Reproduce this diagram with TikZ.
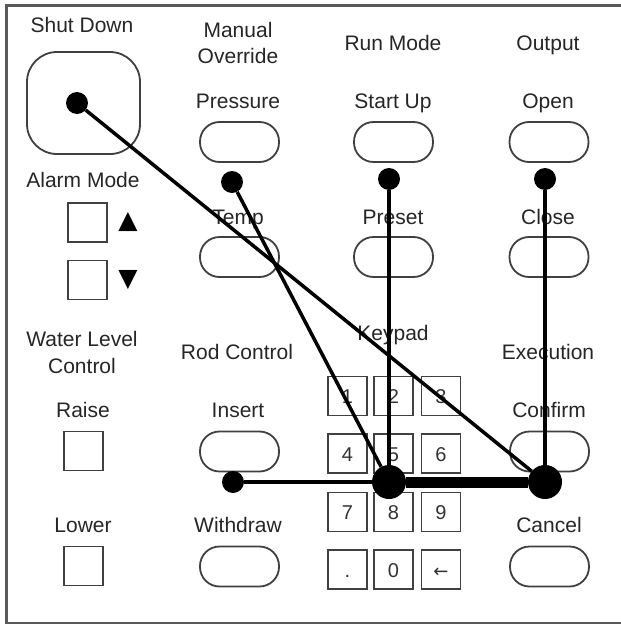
\documentclass[tikz,border=0pt]{standalone}
\usepackage{fontspec}
\setmainfont{Liberation Sans}
\newfontfamily\symfont{DejaVu Sans}
\begin{document}
\begin{tikzpicture}[x=1pt,y=-1pt,
  lbl/.style={font=\fontsize{21}{27}\selectfont, text=black!85, anchor=base, inner sep=0pt},
  lbl2/.style={font=\fontsize{21}{26.5}\selectfont, text=black!85, align=center, anchor=center, inner sep=0pt},
  pill/.style={draw=black!75, line width=1.8pt, rounded corners=19.5pt, minimum width=79pt, minimum height=40pt, inner sep=0pt},
  sq/.style={draw=black!75, line width=1.8pt, minimum size=39pt, inner sep=0pt},
  keybox/.style={sq, font=\fontsize{20}{20}\selectfont, text height=15pt, text depth=0pt, text=black!80},
  sym/.style={font=\symfont\fontsize{25}{25}\selectfont, inner sep=0pt},
  dot/.style={circle, fill=black, minimum size=22pt, inner sep=0pt},
  bigdot/.style={circle, fill=black, minimum size=34pt, inner sep=0pt},
  wire/.style={line width=3.5pt},
  thickwire/.style={line width=11pt},
  frame/.style={draw=black!65, line width=3pt}
  ]
\useasboundingbox (0,0) rectangle (621,624);
\fill[white] (0,0) rectangle (621,624);
\draw[frame] (621,5) -- (6.5,5) -- (6.5,623) -- (621,623);

% labels
\node[lbl] (tShut) at (82,32) {Shut Down};
\node[lbl2] (tManual) at (238,43) {Manual\\Override};
\node[lbl] (tRun) at (393,50) {Run Mode};
\node[lbl] (tOut) at (548,50) {Output};
\node[lbl] (tPress) at (238,108) {Pressure};
\node[lbl] (tStart) at (393,108) {Start Up};
\node[lbl] (tOpen) at (548,108) {Open};
\node[lbl] (tAlarm) at (83,187) {Alarm Mode};
\node[lbl] (tTemp) at (238,224) {Temp};
\node[lbl] (tPreset) at (393,224) {Preset};
\node[lbl] (tClose) at (548,224) {Close};
\node[lbl2] (tWater) at (82,352.5) {Water Level\\Control};
\node[lbl] (tRod) at (237,359) {Rod Control};
\node[lbl] (tKey) at (393,340) {Keypad};
\node[lbl] (tExec) at (548,359) {Execution};
\node[lbl] (tRaise) at (83,417) {Raise};
\node[lbl] (tInsert) at (238,417) {Insert};
\node[lbl] (tConfirm) at (549,417) {Confirm};
\node[lbl] (tLower) at (83,532) {Lower};
\node[lbl] (tWith) at (238,532) {Withdraw};
\node[lbl] (tCancel) at (549,532) {Cancel};

% shut down button
\node[draw=black!75, line width=1.8pt, rounded corners=30pt, minimum width=113pt, minimum height=102pt, inner sep=0pt] (bShut) at (83.5,103) {};

% pills
\node[pill] (bPress) at (239.5,142) {};
\node[pill] (bStart) at (393.5,142) {};
\node[pill] (bOpen) at (549,142) {};
\node[pill] (bTemp) at (239.5,257) {};
\node[pill] (bPreset) at (393.5,257) {};
\node[pill] (bClose) at (549,257) {};
\node[pill] (bInsert) at (239.5,451.5) {};
\node[pill] (bWith) at (239.5,566.5) {};
\node[pill] (bConfirm) at (549.5,451.5) {};
\node[pill] (bCancel) at (549.5,566.5) {};

% square buttons
\node[sq] (bAlUp) at (87.5,222.5) {};
\node[sq] (bAlDn) at (87.5,280) {};
\node[sym] (tUp) at (128,222) {▲};
\node[sym] (tDn) at (128,280) {▼};
\node[sq] (bRaise) at (83.5,451) {};
\node[sq] (bLower) at (83.5,566) {};

% keypad
\node[keybox] (k1) at (347.5,396) {1};
\node[keybox] (k2) at (393.5,396) {2};
\node[keybox] (k3) at (441,396) {3};
\node[keybox] (k4) at (347.5,453.5) {4};
\node[keybox] (k5) at (393.5,453.5) {5};
\node[keybox] (k6) at (441,453.5) {6};
\node[keybox] (k7) at (347.5,512) {7};
\node[keybox] (k8) at (393.5,512) {8};
\node[keybox] (k9) at (441,512) {9};
\node[keybox] (kdot) at (347.5,569.5) {.};
\node[keybox] (k0) at (393.5,569.5) {0};
\node[keybox, font=\symfont\fontsize{18}{18}\selectfont] (kback) at (441,569.5) {←};

% dots
\node[dot] (dShut) at (77,103) {};
\node[dot] (dPress) at (232,182) {};
\node[dot] (dStart) at (389,179) {};
\node[dot] (dOpen) at (545,179) {};
\node[dot] (dInsert) at (233,482) {};
\node[bigdot] (dKey) at (389,482) {};
\node[bigdot] (dConf) at (545,482) {};

% connectors
\draw[wire] (dShut) -- (dConf);
\draw[wire] (dPress) -- (dKey);
\draw[wire] (dStart) -- (dKey);
\draw[wire] (dOpen) -- (dConf);
\draw[wire] (dInsert) -- (dKey);
\draw[thickwire] (dKey) -- (dConf);
\end{tikzpicture}
\end{document}
